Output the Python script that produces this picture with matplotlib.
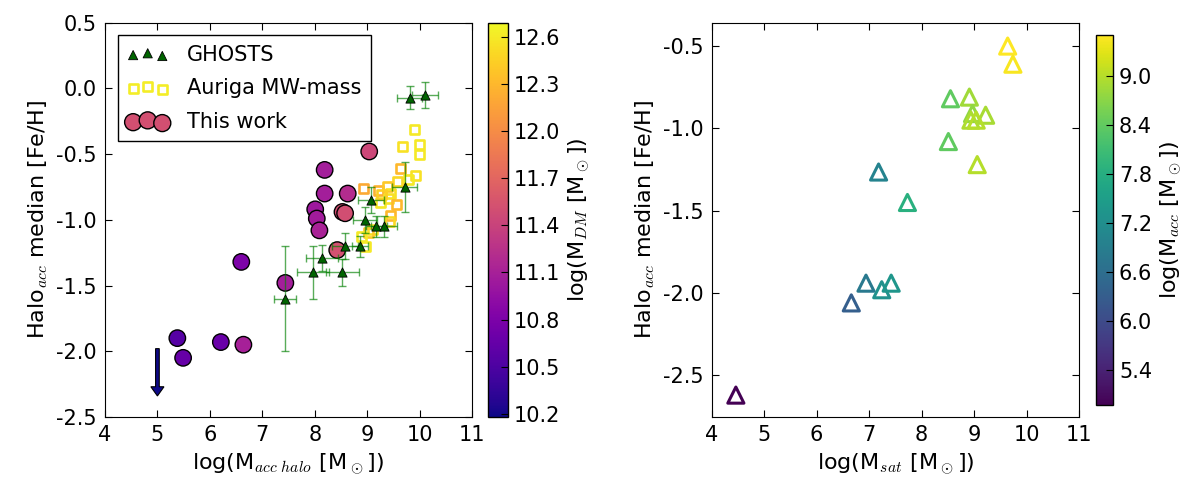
import numpy as np
import matplotlib
matplotlib.use("Agg")
import matplotlib.pyplot as plt
from matplotlib import cm, colors
from matplotlib.ticker import MultipleLocator, FormatStrFormatter

plt.rcParams['font.family'] = ['DejaVu Sans']
plt.rcParams['mathtext.fontset'] = 'cm'

# ---------------- data: left panel ----------------
this_x = [9.04, 8.19, 8.19, 8.63, 8.01, 8.04, 8.09, 8.53, 8.58, 8.43, 7.44, 6.60, 5.38, 5.49, 6.21, 6.64]
this_y = [-0.48, -0.62, -0.80, -0.80, -0.92, -0.99, -1.08, -0.94, -0.95, -1.23, -1.48, -1.32, -1.90, -2.05, -1.93, -1.95]
this_mdm = [11.44, 11.08, 11.08, 11.2, 11.03, 11.06, 11.12, 11.5, 11.5, 11.52, 11.08, 10.8, 10.56, 10.66, 10.68, 11.1]

auriga_x = [9.90, 9.68, 10.00, 10.00, 9.64, 9.93, 9.78, 9.58, 8.93, 9.21, 9.38, 9.45, 9.25, 9.40, 9.57, 9.45, 9.42, 9.10, 9.02, 8.90, 8.97, 9.28]
auriga_y = [-0.31, -0.44, -0.43, -0.50, -0.61, -0.66, -0.69, -0.71, -0.76, -0.78, -0.75, -0.80, -0.87, -0.84, -0.88, -0.97, -1.01, -1.07, -1.10, -1.13, -1.20, -0.81]
auriga_mdm = [12.6, 12.55, 12.6, 12.6, 12.3, 12.55, 12.6, 12.5, 12.2, 12.25, 12.4, 12.55, 12.6, 12.55, 12.3, 12.3, 12.5, 12.55, 12.4, 12.6, 12.6, 12.45]

ghosts_x = [9.81, 10.11, 9.72, 9.08, 8.96, 9.17, 9.32, 8.87, 8.58, 8.14, 7.97, 8.53, 7.44]
ghosts_y = [-0.07, -0.05, -0.75, -0.85, -1.00, -1.05, -1.05, -1.20, -1.20, -1.29, -1.40, -1.40, -1.60]
ghosts_xerr = [0.24, 0.25, 0.24, 0.25, 0.22, 0.20, 0.25, 0.15, 0.25, 0.30, 0.31, 0.31, 0.21]
ghosts_yerr = [0.09, 0.10, 0.19, 0.10, 0.10, 0.08, 0.08, 0.08, 0.10, 0.10, 0.20, 0.10, 0.40]

limit_x = [5.0]
limit_y = [-1.98]
limit_len = [0.36]

mdm_range = (10.18, 12.69)

# ---------------- data: right panel ----------------
sat_x = [9.64, 9.74, 8.55, 8.91, 8.97, 9.22, 8.94, 9.04, 8.51, 9.06, 7.18, 7.73, 6.94, 7.24, 7.42, 6.66, 4.46]
sat_y = [-0.50, -0.61, -0.82, -0.81, -0.91, -0.92, -0.95, -0.95, -1.08, -1.22, -1.265, -1.45, -1.94, -1.98, -1.94, -2.06, -2.62]
sat_macc = [9.50, 9.45, 8.40, 8.85, 8.75, 8.90, 8.95, 9.0, 8.40, 9.0, 7.0, 7.85, 6.8, 7.25, 7.35, 6.33, 4.97]
macc_range = (4.97, 9.50)

# ---------------- figure ----------------
fs_tick = 15
fs_label = 16

fig = plt.figure(figsize=(12, 4.9), dpi=100)
ax1 = fig.add_axes([0.0875, 0.149, 0.3058, 0.8047])
cax1 = fig.add_axes([0.4067, 0.149, 0.0167, 0.8047])
ax2 = fig.add_axes([0.5931, 0.149, 0.3061, 0.8047])
cax2 = fig.add_axes([0.913, 0.174, 0.0148, 0.754])

cmap1 = plt.get_cmap('plasma')
norm1 = colors.Normalize(*mdm_range)
cmap2 = plt.get_cmap('viridis')
norm2 = colors.Normalize(*macc_range)

# left panel
ax1.scatter(this_x, this_y, c=this_mdm, cmap=cmap1, norm=norm1, s=140,
            edgecolors='k', linewidths=1.0, zorder=3)
ax1.scatter(auriga_x, auriga_y, marker='s', s=42, facecolors='none',
            edgecolors=cmap1(norm1(np.array(auriga_mdm))), linewidths=1.9, zorder=4)
ax1.errorbar(ghosts_x, ghosts_y, xerr=ghosts_xerr, yerr=ghosts_yerr, fmt='none',
             ecolor='green', elinewidth=1.0, capsize=3, capthick=1.0, alpha=0.65, zorder=5)
ax1.scatter(ghosts_x, ghosts_y, marker='^', s=44, c='#006400', edgecolors='k',
            linewidths=0.6, zorder=6)
for lx, ly, ll in zip(limit_x, limit_y, limit_len):
    ax1.arrow(lx, ly, 0, -ll, width=0.07, head_width=0.25, head_length=0.07,
              length_includes_head=True, fc=cmap1(0.0), ec='k', lw=0.8, zorder=6)

h_g = ax1.scatter([], [], marker='^', s=44, c='#006400', edgecolors='k', linewidths=0.6)
h_a = ax1.scatter([], [], marker='s', s=42, facecolors='none', edgecolors=cmap1(0.97), linewidths=1.9)
h_t = ax1.scatter([], [], marker='o', s=150, c=[cmap1(0.53)], edgecolors='k', linewidths=1.0)
ax1.legend([h_g, h_a, h_t], ['GHOSTS', 'Auriga MW-mass', 'This work'], loc='upper left',
           scatterpoints=3, scatteryoffsets=[0.375, 0.5, 0.3125], fancybox=False,
           edgecolor='k', framealpha=1, fontsize=15, borderaxespad=0.6,
           handletextpad=0.9, labelspacing=0.65, borderpad=0.45)

ax1.set_xlim(4, 11)
ax1.set_ylim(-2.5, 0.5)
ax1.xaxis.set_major_locator(MultipleLocator(1))
ax1.yaxis.set_major_locator(MultipleLocator(0.5))
ax1.yaxis.set_major_formatter(FormatStrFormatter('%.1f'))
ax1.set_xlabel(r'log(M$_{acc\ halo}$ [M$_\odot$])', fontsize=fs_label)
ax1.set_ylabel(r'Halo$_{acc}$ median [Fe/H]', fontsize=fs_label)

sm1 = cm.ScalarMappable(norm=norm1, cmap=cmap1)
cb1 = fig.colorbar(sm1, cax=cax1)
cb1.set_ticks(MultipleLocator(0.3))
cb1.ax.yaxis.set_major_formatter(FormatStrFormatter('%.1f'))
cb1.set_label(r'log(M$_{DM}$ [M$_\odot$])', fontsize=fs_label)

# right panel
ax2.scatter(sat_x, sat_y, marker='^', s=135, facecolors='none',
            edgecolors=cmap2(norm2(np.array(sat_macc))), linewidths=2.2)
ax2.set_xlim(4, 11)
ax2.set_ylim(-2.753, -0.358)
ax2.xaxis.set_major_locator(MultipleLocator(1))
ax2.yaxis.set_major_locator(MultipleLocator(0.5))
ax2.yaxis.set_major_formatter(FormatStrFormatter('%.1f'))
ax2.set_xlabel(r'log(M$_{sat}$ [M$_\odot$])', fontsize=fs_label)
ax2.set_ylabel(r'Halo$_{acc}$ median [Fe/H]', fontsize=fs_label)

sm2 = cm.ScalarMappable(norm=norm2, cmap=cmap2)
cb2 = fig.colorbar(sm2, cax=cax2)
cb2.set_ticks(MultipleLocator(0.6))
cb2.ax.yaxis.set_major_formatter(FormatStrFormatter('%.1f'))
cb2.set_label(r'log(M$_{acc}$ [M$_\odot$])', fontsize=fs_label)

for ax in (ax1, ax2):
    ax.tick_params(direction='in', top=True, right=True, length=5, width=0.8,
                   labelsize=fs_tick, pad=6)
for cb in (cb1, cb2):
    cb.ax.tick_params(direction='in', length=5, width=0.8, labelsize=fs_tick, pad=4)
    cb.outline.set_linewidth(1.0)

fig.savefig('out.png', dpi=100)
